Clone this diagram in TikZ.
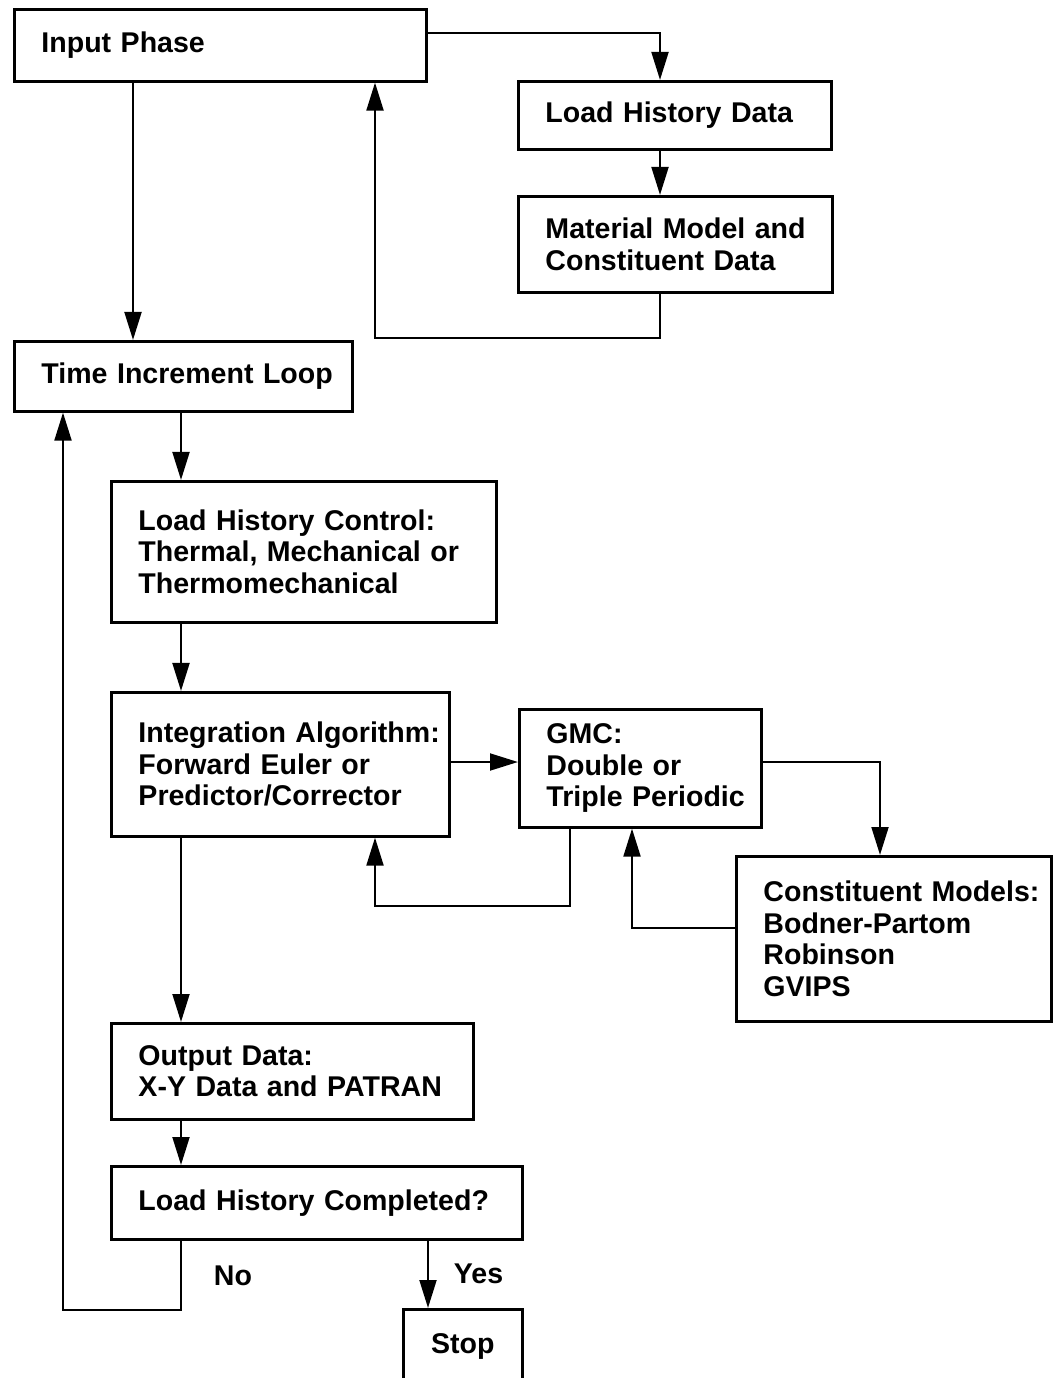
\documentclass[tikz,border=0pt]{standalone}
\usepackage{fontspec}
\setmainfont{Liberation Sans}
\usetikzlibrary{positioning}
\usetikzlibrary{arrows.meta}

\begin{document}
\begin{tikzpicture}[x=0.025cm, y=-0.025cm, line width=1.8pt,
        >={Triangle[length=0.7cm,width=0.42cm]},
        font=\fontsize{20.3}{22.4}\selectfont\bfseries,
        box/.style={draw=black, anchor=north west, align=left, inner xsep=0.68cm, inner ysep=0pt}]
        \useasboundingbox (0,0) rectangle (1054,1378);

        \node(inp) [box, text width=8.94cm, minimum height=1.8cm] at (13,8) {Input Phase};
        \node(lhd) [box, text width=6.47cm, minimum height=1.7cm] at (517,80) {\mbox{Load History Data}};
        \node(mat) [box, text width=6.49cm, minimum height=2.4cm] at (517,195) {\mbox{Material Model and}\\\mbox{Constituent Data}};
        \node(til) [box, text width=7.09cm, minimum height=1.75cm] at (13,340) {\mbox{Time Increment Loop}};
        \node(lhc) [box, text width=8.27cm, minimum height=3.525cm] at (110,480) {\mbox{Load History Control:}\\\mbox{Thermal, Mechanical or}\\Thermomechanical};
        \node(ia) [box, text width=7.09cm, minimum height=3.6cm] at (110,691) {\mbox{Integration Algorithm:}\\\mbox{Forward Euler or}\\Predictor/Corrector};
        \node(gmc) [box, text width=4.69cm, minimum height=2.95cm] at (518,708) {GMC:\\\mbox{Double or}\\\mbox{Triple Periodic}};
        \node(con) [box, text width=6.52cm, minimum height=4.125cm] at (735,855) {\mbox{Constituent Models:}\\Bodner-Partom\\Robinson\\GVIPS};
        \node(out) [box, text width=7.69cm, minimum height=2.4cm] at (110,1022) {\mbox{Output Data:}\\\mbox{X-Y Data and PATRAN}};
        \node(cmp) [box, text width=8.92cm, minimum height=1.825cm] at (110,1165) {\mbox{Load History Completed?}};
        \node(stp) [box, align=center, text width=1.62cm, minimum height=1.85cm] at (402,1308) {Stop};

        \node(no) [anchor=west] at (208,1276) {No};
        \node(yes) [anchor=west] at (448,1274) {Yes};

        % columns and rows of the connectors
        \coordinate (xa) at (133,0);
        \coordinate (xb) at (181,0);
        \coordinate (xc) at (375,0);
        \coordinate (xd) at (660,0);
        \coordinate (xe) at (570,0);
        \coordinate (xf) at (632,0);
        \coordinate (xg) at (880,0);
        \coordinate (xh) at (63,0);
        \coordinate (xi) at (428,0);
        \coordinate (ya) at (0,33);
        \coordinate (yb) at (0,338);
        \coordinate (yc) at (0,762);
        \coordinate (yd) at (0,906);
        \coordinate (ye) at (0,928);
        \coordinate (yf) at (0,1310);

        \draw[->] (inp.east |- ya) -| (lhd.north -| xd);
        \draw[->] (lhd.south -| xd) -- (mat.north -| xd);
        \draw[->] (mat.south -| xd) |- (yb -| xc) -- (inp.south -| xc);
        \draw[->] (inp.south -| xa) -- (til.north -| xa);

        \draw[->] (til.south -| xb) -- (lhc.north -| xb);
        \draw[->] (lhc.south -| xb) -- (ia.north -| xb);
        \draw[->] (ia.east |- yc) -- (gmc.west |- yc);
        \draw[->] (gmc.south -| xe) |- (yd -| xc) -- (ia.south -| xc);
        \draw[->] (gmc.east |- yc) -| (con.north -| xg);
        \draw[->] (con.west |- ye) -| (gmc.south -| xf);

        \draw[->] (ia.south -| xb) -- (out.north -| xb);
        \draw[->] (out.south -| xb) -- (cmp.north -| xb);
        \draw[->] (cmp.south -| xb) |- (yf -| xh) -- (til.south -| xh);
        \draw[->] (cmp.south -| xi) -- (stp.north -| xi);
    \end{tikzpicture}
\end{document}
